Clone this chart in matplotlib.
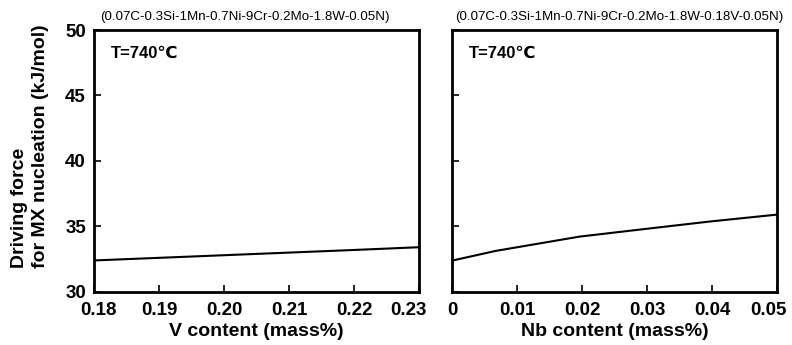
import matplotlib
matplotlib.use("Agg")
import matplotlib.pyplot as plt
from matplotlib.transforms import ScaledTranslation

plt.rcParams['font.family'] = ['Liberation Sans', 'DejaVu Sans']

v_content = [0.18, 0.19, 0.20, 0.21, 0.22, 0.23]
v_force = [32.40, 32.60, 32.80, 33.00, 33.20, 33.41]

nb_content = [0.0, 0.0067, 0.0196, 0.0298, 0.0396, 0.0496, 0.05]
nb_force = [32.39, 33.13, 34.22, 34.81, 35.37, 35.88, 35.90]

v_ticks = [0.18, 0.19, 0.20, 0.21, 0.22, 0.23]
v_ticklabels = ['0.18', '0.19', '0.20', '0.21', '0.22', '0.23']
nb_ticks = [0, 0.01, 0.02, 0.03, 0.04, 0.05]
nb_ticklabels = ['0', '0.01', '0.02', '0.03', '0.04', '0.05']
y_ticks = [30, 35, 40, 45, 50]

title_left = "(0.07C-0.3Si-1Mn-0.7Ni-9Cr-0.2Mo-1.8W-0.05N)"
title_right = "(0.07C-0.3Si-1Mn-0.7Ni-9Cr-0.2Mo-1.8W-0.18V-0.05N)"
temp_label = "T=740\u2103"

fig = plt.figure(figsize=(7.92, 3.45), dpi=100)
ax1 = fig.add_axes([0.119, 0.154, 0.410, 0.759])
ax2 = fig.add_axes([0.571, 0.154, 0.410, 0.759])

ax1.plot(v_content, v_force, color='black', lw=1.5)
ax2.plot(nb_content, nb_force, color='black', lw=1.5)

ax1.set_xlim(0.18, 0.23)
ax1.set_xticks(v_ticks)
ax1.set_xticklabels(v_ticklabels)
ax2.set_xlim(0, 0.05)
ax2.set_xticks(nb_ticks)
ax2.set_xticklabels(nb_ticklabels)

for ax in (ax1, ax2):
    ax.set_ylim(30, 50)
    ax.set_yticks(y_ticks)
    for s in ax.spines.values():
        s.set_linewidth(2)
    ax.tick_params(direction='in', length=5, width=1.2, labelsize=13.5,
                   top=False, right=False)
    ax.tick_params(axis='x', pad=7)
    ax.tick_params(axis='y', pad=6)
    for lab in ax.get_xticklabels() + ax.get_yticklabels():
        lab.set_fontweight('bold')
    ax.text(0.05, 0.91, temp_label, transform=ax.transAxes, fontsize=12,
            fontweight='bold', va='center', ha='left')

ax2.tick_params(labelleft=False)

# end labels nudged inward as in the reference
xl1 = ax1.get_xticklabels()
xl1[0].set_transform(xl1[0].get_transform() + ScaledTranslation(4/100, 0, fig.dpi_scale_trans))
xl1[-1].set_transform(xl1[-1].get_transform() + ScaledTranslation(-11/100, 0, fig.dpi_scale_trans))
xl2 = ax2.get_xticklabels()
xl2[-1].set_transform(xl2[-1].get_transform() + ScaledTranslation(-9/100, 0, fig.dpi_scale_trans))

ax1.text(0.018, 1.025, title_left, transform=ax1.transAxes, fontsize=9.6,
         va='bottom', ha='left')
ax2.text(0.008, 1.025, title_right, transform=ax2.transAxes, fontsize=9.6,
         va='bottom', ha='left')

ax1.set_xlabel("V content (mass%)", fontsize=14, fontweight='bold', labelpad=3)
ax2.set_xlabel("Nb content (mass%)", fontsize=14, fontweight='bold', labelpad=3)
fig.text(30/792, 1 - 268/345, "Driving force\nfor MX nucleation (kJ/mol)",
         rotation=90, fontsize=14, fontweight='bold', ha='center', va='bottom',
         multialignment='left', linespacing=1.3)

fig.savefig("out.png", dpi=100)
